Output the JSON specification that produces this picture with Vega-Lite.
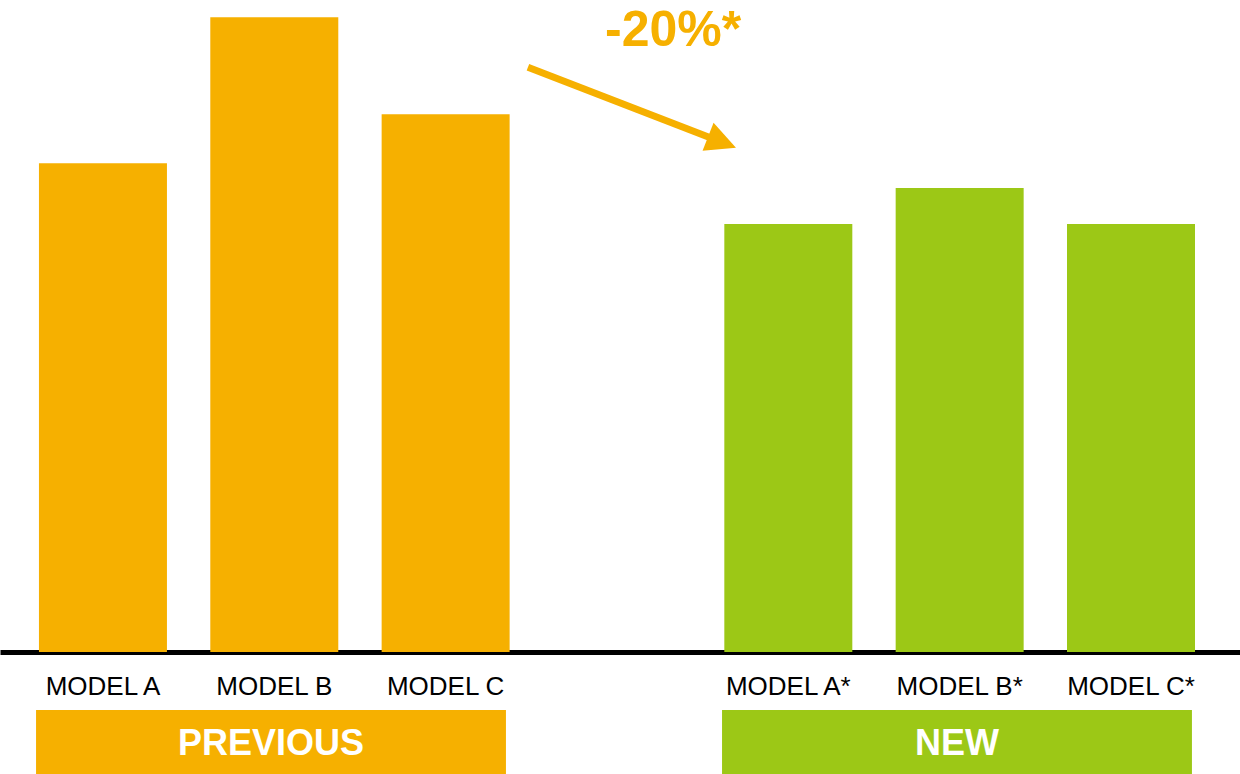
{
  "$schema": "https://vega.github.io/schema/vega-lite/v6.json",
  "padding": 0,
  "background": "white",
  "spacing": 11,
  "config": {"view": {"stroke": null}, "font": "Liberation Sans"},
  "datasets": {
    "models": [
      {"model": "MODEL A", "group": "PREVIOUS", "value": 77.0},
      {"model": "MODEL B", "group": "PREVIOUS", "value": 100.0},
      {"model": "MODEL C", "group": "PREVIOUS", "value": 84.7},
      {"model": "MODEL A*", "group": "NEW", "value": 67.4},
      {"model": "MODEL B*", "group": "NEW", "value": 73.1},
      {"model": "MODEL C*", "group": "NEW", "value": 67.4}
    ],
    "change": [
      {"from": "MODEL C", "to": "MODEL A*", "before": 92.1, "after": 80.3, "label": "-20%*"}
    ],
    "groups": [
      {"group": "PREVIOUS"},
      {"group": "NEW"}
    ]
  },
  "vconcat": [
    {
      "width": 1240,
      "height": 652,
      "layer": [
        {
          "data": {"name": "models"},
          "mark": {"type": "bar"},
          "encoding": {
            "x": {
              "field": "model",
              "type": "nominal",
              "sort": null,
              "scale": {
                "domain": ["MODEL A", "MODEL B", "MODEL C", "GAP", "MODEL A*", "MODEL B*", "MODEL C*"],
                "paddingInner": 0.253,
                "paddingOuter": 0.245,
                "align": 0.464
              },
              "axis": {
                "title": null,
                "orient": "bottom",
                "domainColor": "black",
                "domainWidth": 5,
                "ticks": false,
                "tickSize": 0,
                "labelAngle": 0,
                "labelFont": "Liberation Sans",
                "labelFontSize": 26,
                "labelColor": "black",
                "labelPadding": 21,
                "labelExpr": "datum.value == 'GAP' ? '' : datum.value"
              }
            },
            "y": {
              "field": "value",
              "type": "quantitative",
              "scale": {"domain": [0, 102.7], "nice": false},
              "axis": null
            },
            "color": {
              "field": "group",
              "type": "nominal",
              "scale": {"domain": ["PREVIOUS", "NEW"], "range": ["#F6B000", "#9CC816"]},
              "legend": null
            }
          }
        },
        {
          "data": {"name": "change"},
          "mark": {"type": "rule", "color": "#F6B000", "strokeWidth": 7},
          "encoding": {
            "x": {"field": "from", "type": "nominal", "bandPosition": 1.143},
            "x2": {"field": "to", "bandPosition": -0.018},
            "y": {"field": "before", "type": "quantitative"},
            "y2": {"field": "after"}
          }
        },
        {
          "data": {"name": "change"},
          "mark": {"type": "point", "shape": "M1,0L-1,-1L-1,1Z", "filled": true, "size": 900, "angle": 21.5, "color": "#F6B000", "opacity": 1},
          "encoding": {
            "x": {"field": "to", "type": "nominal", "bandPosition": -0.018},
            "y": {"field": "after", "type": "quantitative"}
          }
        },
        {
          "data": {"name": "change"},
          "mark": {"type": "text", "fontSize": 50, "fontWeight": "bold", "color": "#F6B000", "baseline": "alphabetic", "align": "center", "font": "Liberation Sans"},
          "encoding": {
            "x": {"field": "to", "type": "nominal", "bandPosition": -0.40},
            "y": {"datum": 95.4},
            "text": {"field": "label"}
          }
        }
      ]
    },
    {
      "width": 1240,
      "height": 64,
      "data": {"name": "groups"},
      "encoding": {
        "x": {
          "field": "group",
          "type": "nominal",
          "sort": null,
          "scale": {"domain": ["PREVIOUS", "NEW"], "paddingInner": 0.315, "paddingOuter": 0.0613, "align": 0.4286},
          "axis": null
        }
      },
      "layer": [
        {
          "mark": {"type": "bar"},
          "encoding": {
            "color": {
              "field": "group",
              "type": "nominal",
              "scale": {"domain": ["PREVIOUS", "NEW"], "range": ["#F6B000", "#9CC816"]},
              "legend": null
            }
          }
        },
        {
          "mark": {"type": "text", "color": "white", "fontSize": 36, "fontWeight": "bold", "baseline": "middle", "dy": 2, "font": "Liberation Sans"},
          "encoding": {"text": {"field": "group"}}
        }
      ]
    }
  ]
}
